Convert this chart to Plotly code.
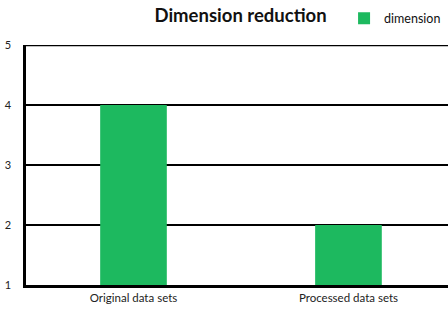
import plotly.graph_objects as go

categories = ["Original data sets", "Processed data sets"]
values = [4, 2]
series_name = "dimension"
y_ticks = [1, 2, 3, 4, 5]

fig = go.Figure()
fig.add_trace(go.Bar(
    x=categories, y=[v - 1 for v in values], base=1,
    name=series_name, marker=dict(color="#1DB95F", line=dict(width=0)),
    width=0.31, showlegend=True,
))

fig.update_layout(
    width=448, height=311,
    margin=dict(l=26, r=0, t=45, b=26, autoexpand=False),
    paper_bgcolor="white", plot_bgcolor="white",
    font=dict(family="Lato, Open Sans, sans-serif", size=11, color="#333"),
    title=dict(text="<b>Dimension reduction</b>", x=0.537, xanchor="center",
               y=0.95, yanchor="middle",
               font=dict(size=18.5, color="#111", family="Lato, Open Sans, sans-serif")),
    showlegend=True,
    legend=dict(xref="container", yref="container", x=0.768, y=0.94,
                xanchor="left", yanchor="middle",
                bgcolor="rgba(0,0,0,0)", font=dict(size=12.5, color="#111"),
                itemwidth=30),
    xaxis=dict(type="category", range=[-0.5, 1.463], showline=True, linecolor="black",
               linewidth=2.5, showgrid=False, ticks="", automargin=False,
               tickfont=dict(size=11.5, color="#222")),
    yaxis=dict(range=[1, 5], tickvals=y_ticks, showline=True, linecolor="black",
               linewidth=2.5, showgrid=True, gridcolor="black", gridwidth=1.5,
               ticks="", ticklabelstandoff=10, automargin=False,
               tickfont=dict(size=11, color="#222"), zeroline=False),
)
fig.add_shape(type="line", xref="paper", yref="y", x0=0, x1=1, y0=5, y1=5,
              line=dict(color="black", width=2.5))
fig.write_html("out.html", config={"displayModeBar": False},
               post_script="document.body.style.margin='0';document.body.style.overflow='hidden';")
